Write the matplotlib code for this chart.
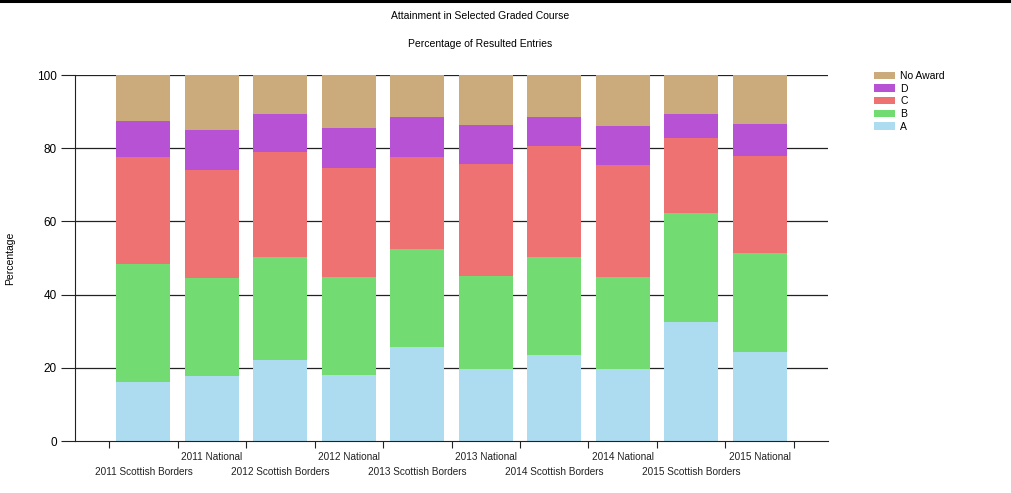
import numpy as np
import matplotlib
matplotlib.use("Agg")
import matplotlib.pyplot as plt
from matplotlib.lines import Line2D

plt.rcParams['font.family'] = ['Liberation Sans', 'DejaVu Sans']

# categories, left to right
categories = ['2011 Scottish Borders', '2011 National',
              '2012 Scottish Borders', '2012 National',
              '2013 Scottish Borders', '2013 National',
              '2014 Scottish Borders', '2014 National',
              '2015 Scottish Borders', '2015 National']

# percentage of resulted entries per grade
grade_a = [16.1, 17.8, 22.1, 18.0, 25.6, 19.7, 23.5, 19.7, 32.6, 24.4]
grade_b = [32.3, 26.8, 28.1, 26.9, 26.9, 25.5, 26.7, 25.2, 29.7, 27.1]
grade_c = [29.2, 29.4, 28.8, 29.7, 25.2, 30.5, 30.3, 30.4, 20.6, 26.4]
grade_d = [9.8, 10.9, 10.3, 10.8, 10.8, 10.6, 8.1, 10.7, 6.4, 8.8]
no_award = [12.6, 15.1, 10.7, 14.6, 11.5, 13.7, 11.4, 14.0, 10.7, 13.3]

series = [('A', grade_a, '#addcf0'),
          ('B', grade_b, '#72db72'),
          ('C', grade_c, '#ee7272'),
          ('D', grade_d, '#b752d4'),
          ('No Award', no_award, '#cbaa7b')]

fig = plt.figure(figsize=(10.11, 4.93), dpi=100)
ax = fig.add_axes([75/1011, 52/493, 753/1011, 366/493])

x = np.arange(1, len(categories) + 1)
bottom = np.zeros(len(categories))
handles = []
for name, vals, col in series:
    vals = np.array(vals)
    b = ax.bar(x, vals, width=0.79, bottom=bottom, color=col, zorder=2, label=name)
    bottom += vals
    handles.append(b)

ax.set_xlim(0, 11)
ax.set_ylim(0, 100)
ax.set_yticks([0, 20, 40, 60, 80, 100])
for y in [20, 40, 60, 80, 100]:
    ax.axhline(y, color='#222222', lw=0.9, zorder=1)

# tick marks sit between the bars, labels staggered under bar centres
ax.set_xticks(np.arange(0.5, 11, 1))
ax.set_xticklabels([])
ax.tick_params(axis='x', length=5, color='#222222')
ax.tick_params(axis='y', length=10, color='#222222', labelsize=8.5, pad=3)
for i, lab in enumerate(categories):
    yoff = -0.045 if i % 2 == 1 else -0.085
    ax.text(x[i], yoff, lab, transform=ax.get_xaxis_transform(),
            ha='center', va='center', fontsize=7.2, color='#222222')

for s in ['top', 'right']:
    ax.spines[s].set_visible(False)
ax.spines['left'].set_color('#222222')
ax.spines['bottom'].set_color('#222222')

ax.set_ylabel('Percentage', fontsize=7.5)
ax.yaxis.set_label_coords(-60/753, 0.5)

fig.text(480/1011, 1 - 16/493, 'Attainment in Selected Graded Course',
         ha='center', va='center', fontsize=7.5)
fig.text(480/1011, 1 - 44/493, 'Percentage of Resulted Entries',
         ha='center', va='center', fontsize=7.5)

fig.legend(handles[::-1], [s[0] for s in series][::-1],
           loc='upper left', bbox_to_anchor=(870/1011, 1 - 67/493),
           frameon=False, fontsize=7.5, handlelength=2.0, handleheight=0.7,
           labelspacing=0.25, handletextpad=0.5, borderaxespad=0)

fig.add_artist(Line2D([0, 1], [1 - 1/493, 1 - 1/493], transform=fig.transFigure,
                      color='black', lw=2.2))

fig.savefig('out.png', dpi=100)
